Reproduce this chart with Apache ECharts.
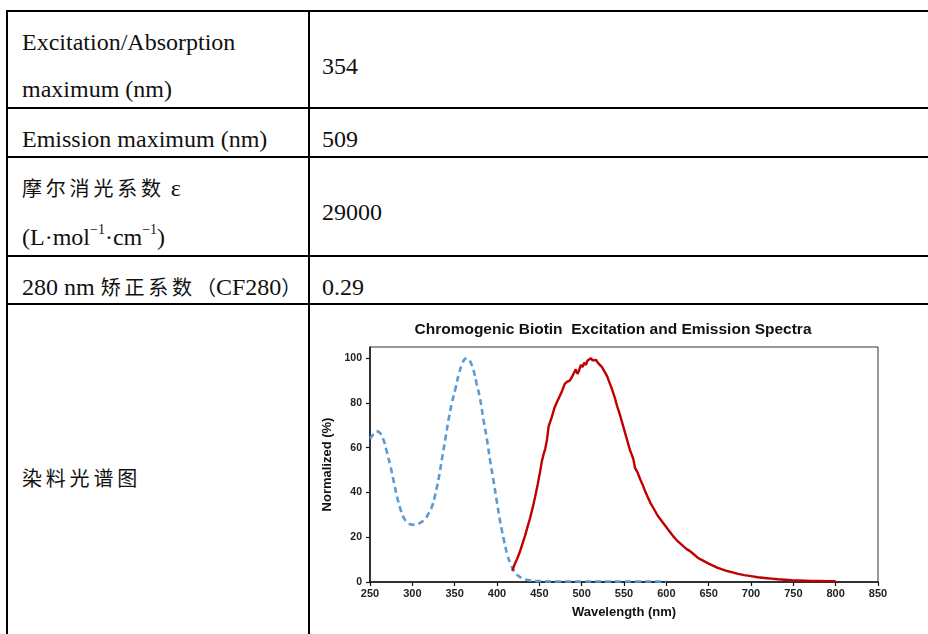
<!DOCTYPE html>
<html>
<head>
<meta charset="utf-8">
<script src="https://cdn.jsdelivr.net/npm/echarts@6/dist/echarts.min.js"></script>
<style>
  html, body { margin: 0; padding: 0; background: #fff; }
  body { width: 928px; height: 634px; overflow: hidden; position: relative; }
  .ln { position: absolute; background: #000; }
  .tx { position: absolute; font-family: "Liberation Serif", "Times New Roman", "Noto Sans CJK SC", serif; font-size: 24px; line-height: 24px; color: #111; white-space: nowrap; }
  .cn { font-family: "Noto Sans CJK SC", sans-serif; font-size: 20px; letter-spacing: 3.8px; }
  sup { font-size: 14px; line-height: 0; position: relative; top: -2px; vertical-align: super; }
  #chart { position: absolute; left: 311px; top: 306px; width: 617px; height: 328px; }
</style>
</head>
<body>
<!-- table lines -->
<div class="ln" style="left:6px; top:10px; width:930px; height:2px;"></div>
<div class="ln" style="left:6px; top:10px; width:2px; height:630px;"></div>
<div class="ln" style="left:308px; top:10px; width:2px; height:630px;"></div>
<div class="ln" style="left:6px; top:107px; width:930px; height:2px;"></div>
<div class="ln" style="left:6px; top:156px; width:930px; height:2px;"></div>
<div class="ln" style="left:6px; top:255px; width:930px; height:2px;"></div>
<div class="ln" style="left:6px; top:303px; width:930px; height:2px;"></div>

<!-- table text -->
<div class="tx" style="left:22px; top:30px;">Excitation/Absorption</div>
<div class="tx" style="left:22px; top:77px;">maximum (nm)</div>
<div class="tx" style="left:322px; top:54px;">354</div>
<div class="tx" style="left:22px; top:127px;">Emission maximum (nm)</div>
<div class="tx" style="left:322px; top:127px;">509</div>
<div class="tx" style="left:22px; top:176px;"><span class="cn">摩尔消光系数</span> ε</div>
<div class="tx" style="left:22px; top:225px;">(L·mol<sup>−1</sup>·cm<sup>−1</sup>)</div>
<div class="tx" style="left:322px; top:200px;">29000</div>
<div class="tx" style="left:22px; top:275px;">280 nm <span class="cn">矫正系数</span><span class="cn" style="letter-spacing:0">（</span>CF280<span class="cn" style="letter-spacing:0">）</span></div>
<div class="tx" style="left:322px; top:275px;">0.29</div>
<div class="tx" style="left:22px; top:466px;"><span class="cn">染料光谱图</span></div>

<div id="chart"></div>
<script>
const chartTitle = "Chromogenic Biotin  Excitation and Emission Spectra";
const xAxisName = "Wavelength (nm)";
const yAxisName = "Normalized (%)";
const yTickValues = [0, 20, 40, 60, 80, 100];

// Excitation (absorption) spectrum: [wavelength nm, normalized %]
const excitation = [
  [250,64],[254,66],[258,67.3],[262,66.5],[266,63.5],[270,58],[274,52],[278,45],
  [282,38],[286,32.5],[290,28.6],[295,26.3],[300,25.6],[305,25.7],[310,26.6],[315,28],
  [319,30.5],[323,33.5],[327,39],[331,46],[335,55],[339,64],[343,73],[347,80.5],
  [351,86.5],[355,93],[359,97.5],[363,99.8],[366,99.7],[369,98],[372,95],[376,88.5],
  [380,82],[384,72.5],[388,64],[392,54],[396,45],[400,35.5],[404,26.5],[408,19],
  [412,12.5],[416,8],[420,5],[425,2.8],[430,1.6],[435,1],[440,0.7],[450,0.4],
  [470,0.2],[500,0.2],[550,0.2],[600,0.2]
];

// Emission spectrum: [wavelength nm, normalized %]
const emission = [
  [418,5],[421,8],[424,10.5],[427,13.5],[430,17],[433,20.5],[436,24.5],[439,28.5],
  [442,33],[445,38],[448,43.5],[451,49.5],[453,54],[455,57],[457,59.5],[459,63.5],
  [461,69.5],[463,70],[465,74],[468,78],[471,80.5],[474,83],[477,85.5],[480,88.5],
  [483,89.5],[486,90],[489,92],[491,93.5],[493,95],[495,93],[497,94.5],[499,97],
  [501,96],[503,98],[505,97],[507,99],[509,99.5],[511,100],[513,99],[515,98.5],
  [517,99.2],[519,98],[521,97.5],[524,96],[527,94],[530,92],[533,89],[536,86],
  [539,82.5],[542,78.5],[545,75],[548,71],[551,67],[554,63],[557,59],[559,57],
  [561,55],[563,51],[566,49],[569,46],[572,43.5],[575,40.5],[578,38],[581,35.5],
  [584,33.5],[587,31.5],[590,29.5],[593,28],[596,26.5],[599,25],[602,23.5],[605,22],
  [608,20.5],[611,19.2],[614,18],[617,17],[620,16],[624,14.7],[628,13.8],[632,12.5],
  [636,11.2],[640,10.2],[645,9.2],[650,8.2],[655,7.3],[660,6.4],[666,5.6],[672,4.9],
  [678,4.3],[685,3.6],[692,3.1],[700,2.6],[708,2.1],[716,1.8],[724,1.5],[732,1.2],
  [740,1.0],[748,0.8],[756,0.7],[764,0.6],[772,0.5],[780,0.5],[790,0.4],[800,0.4]
];

const sans = 'Liberation Sans, Arial, sans-serif';
const chart = echarts.init(document.getElementById('chart'), null, { renderer: 'canvas' });
chart.setOption({
  animation: false,
  title: {
    text: chartTitle,
    left: 297, top: 11, textAlign: 'center',
    textStyle: { fontFamily: sans, fontWeight: 'bold', fontSize: 15.5, color: '#111' }
  },
  grid: {
    left: 59, top: 41, width: 508, height: 235,
    show: true, borderColor: '#333', borderWidth: 1
  },
  xAxis: {
    type: 'value', min: 250, max: 850, interval: 50,
    name: xAxisName, nameLocation: 'middle', nameGap: 24,
    nameTextStyle: { fontFamily: sans, fontWeight: 'bold', fontSize: 13, color: '#111' },
    axisLine: { show: true, lineStyle: { color: '#111', width: 1.5 } },
    axisTick: { show: true, inside: false, length: 4, lineStyle: { color: '#111', width: 1.2 } },
    axisLabel: { margin: 6, fontFamily: sans, fontWeight: 'bold', fontSize: 11, color: '#222' },
    splitLine: { show: false }
  },
  yAxis: {
    type: 'value', min: 0, max: 105,
    name: yAxisName, nameLocation: 'middle', nameGap: 27, nameRotate: 90,
    nameTextStyle: { fontFamily: sans, fontWeight: 'bold', fontSize: 13, color: '#111' },
    axisLine: { show: true, lineStyle: { color: '#111', width: 1.5 } },
    axisTick: { show: true, inside: false, length: 4, customValues: yTickValues, lineStyle: { color: '#111', width: 1.2 } },
    axisLabel: { margin: 8, customValues: yTickValues, fontFamily: sans, fontWeight: 'bold', fontSize: 10.5, color: '#222' },
    splitLine: { show: false }
  },
  series: [
    {
      name: 'Excitation', type: 'line', data: excitation, smooth: 0.4, showSymbol: false,
      lineStyle: { color: '#5b9bd5', width: 2.6, type: [6, 4] }, z: 2
    },
    {
      name: 'Emission', type: 'line', data: emission, smooth: false, showSymbol: false,
      lineStyle: { color: '#c00000', width: 2.4 }, z: 3
    }
  ]
});
</script>
</body>
</html>
